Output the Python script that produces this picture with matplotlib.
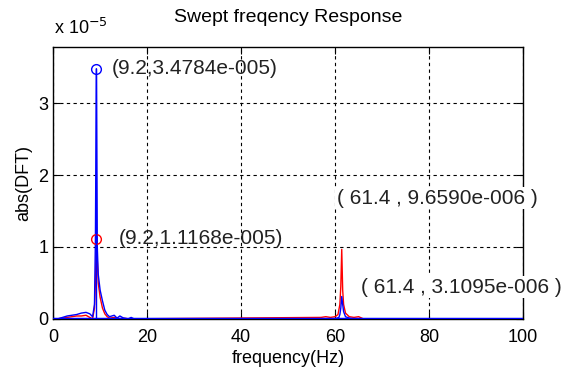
import numpy as np
import matplotlib
matplotlib.use('Agg')
from matplotlib import pyplot as plt

plt.rcParams['font.family'] = ['Liberation Sans', 'DejaVu Sans']

# spectrum values in units of 1e-5
blue_f = [0, 1, 2, 3, 4, 5, 6, 7, 7.8, 8.4, 8.8, 9.0, 9.2, 9.4, 9.6, 10.0, 10.5, 11, 11.5, 12, 13, 13.6, 14.2, 15, 16, 16.6, 17.2,
          58, 60, 60.8, 61.0, 61.2, 61.4, 61.6, 61.8, 62.2, 63, 64, 100]
blue_v = [0, 0, 0.02, 0.04, 0.05, 0.06, 0.08, 0.09, 0.07, 0.03, 0.2, 1.1, 3.4784, 1.0, 0.62, 0.4, 0.25, 0.12, 0.06, 0.03, 0.05, 0.01, 0.04, 0.01, 0.0, 0.02, 0.0,
          0, 0, 0.02, 0.06, 0.15, 0.31095, 0.2, 0.1, 0.03, 0.01, 0, 0]

red_f = [0, 1, 2, 3, 4, 5, 6, 7, 7.8, 8.4, 8.8, 9.0, 9.2, 9.4, 9.6, 10.0, 10.5, 11, 11.5, 12, 13, 14, 15, 16,
         57, 58, 59, 60, 60.6, 61.0, 61.2, 61.4, 61.6, 61.8, 62.2, 63, 64, 65, 66, 100]
red_v = [0, 0, 0.01, 0.02, 0.03, 0.04, 0.04, 0.05, 0.02, 0.0, 0.15, 0.5, 1.1168, 0.82, 0.5, 0.3, 0.15, 0.07, 0.03, 0.01, 0.02, 0.0, 0.01, 0.0,
         0.02, 0.03, 0.02, 0.03, 0.06, 0.2, 0.45, 0.9659, 0.4, 0.2, 0.08, 0.03, 0.02, 0.03, 0.0, 0]

markers = [(9.2, 3.4784, 'b'), (9.2, 1.1168, 'r')]

fig = plt.figure(figsize=(5.65, 3.76), dpi=100)
ax = fig.add_axes([0.094, 0.152, 0.832, 0.723])

ax.plot(red_f, red_v, color='red', lw=1)
ax.plot(blue_f, blue_v, color='blue', lw=1)
ax.axhline(0, color='blue', lw=2.5, zorder=3)

for x, y, c in markers:
    ax.plot([x], [y], 'o', mfc='none', mec=c, ms=7, mew=1)
ax.plot([9.2, 9.2], [0, 3.4784], color='blue', lw=1)

ann = dict(fontsize=15, va='center', color='#222222')
box = dict(facecolor='white', edgecolor='none', pad=1)
ax.text(12.5, 3.48, '(9.2,3.4784e-005)', **ann)
ax.text(14.0, 1.12, '(9.2,1.1168e-005)', **ann)
ax.text(60.3, 1.68, '( 61.4 , 9.6590e-006 )', bbox=box, clip_on=False, zorder=5, **ann)
ax.text(65.5, 0.44, '( 61.4 , 3.1095e-006 )', bbox=box, clip_on=False, zorder=5, **ann)

ax.set_xlim(0, 100)
ax.set_ylim(0, 3.78)
ax.set_xticks([0, 20, 40, 60, 80, 100])
ax.set_yticks([0, 1, 2, 3])
ax.grid(True, color='black', linestyle=(0, (3, 3)), lw=0.8)
ax.tick_params(direction='in', top=True, right=True, labelsize=13, length=5)
ax.tick_params(axis='x', pad=7)
for s in ax.spines.values():
    s.set_linewidth(1)

ax.set_xlabel('frequency(Hz)', fontsize=13, labelpad=3)
ax.set_ylabel('abs(DFT)', fontsize=13)
ax.set_title('Swept freqency Response', fontsize=14, pad=18)
fig.text(0.095, 0.9, r'x 10$^{-5}$', fontsize=13, va='bottom')

plt.savefig('out.png', dpi=100)
